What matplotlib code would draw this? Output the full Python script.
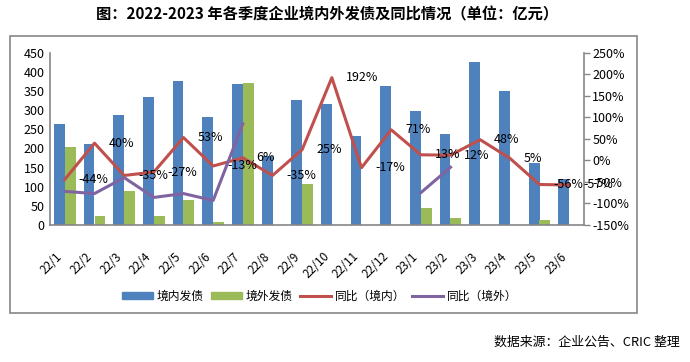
import numpy as np
import matplotlib
matplotlib.use("Agg")
import matplotlib.pyplot as plt
from matplotlib.patches import Rectangle, Patch
from matplotlib.lines import Line2D

plt.rcParams['font.family'] = ['Noto Sans CJK SC', 'DejaVu Sans']
plt.rcParams['axes.unicode_minus'] = False

# Data
quarters = ['22/1', '22/2', '22/3', '22/4', '22/5', '22/6', '22/7', '22/8', '22/9',
            '22/10', '22/11', '22/12', '23/1', '23/2', '23/3', '23/4', '23/5', '23/6']
domestic = [264, 212, 287, 334, 376, 282, 368, 180, 326,
            316, 232, 363, 298, 238, 425, 350, 162, 120]
overseas = [204, 24, 89, 24, 66, 8, 371, 0, 107,
            0, 0, 0, 45, 18, 0, 0, 13, 0]
yoy_domestic = [-44, 40, -35, -27, 53, -13, 6, -35, 25,
                192, -17, 71, 13, 12, 48, 5, -56, -57]
yoy_overseas = [-72, -77, -40, -86, -77, -93, 85, np.nan, np.nan,
                np.nan, np.nan, np.nan, -75, -16, np.nan, np.nan, np.nan, np.nan]

c_blue = '#4F81BD'
c_green = '#9BBB59'
c_red = '#C0504D'
c_purple = '#8064A2'
c_axis = '#868686'

fig = plt.figure(figsize=(6.9, 3.62), dpi=100)
ax = fig.add_axes([50 / 690, 1 - 225 / 362, 534 / 690, (225 - 52.7) / 362])
ax2 = ax.twinx()

x = np.arange(len(quarters))
w = 0.37
ax.bar(x - w / 2, domestic, w, color=c_blue, zorder=2)
ax.bar(x + w / 2, overseas, w, color=c_green, zorder=2)
ax.set_xlim(-0.5, len(quarters) - 0.5)
ax.set_ylim(0, 450)
ax.set_yticks(np.arange(0, 451, 50))
ax.set_xticks(x)
ax.set_xticklabels(quarters, rotation=45, ha='right', va='top', fontsize=8.5)
ax.tick_params(axis='x', length=0, pad=18)
ax.tick_params(axis='y', length=0, labelsize=9, pad=4)

ax2.plot(x, yoy_domestic, color=c_red, lw=2.2, zorder=3)
ax2.plot(x, yoy_overseas, color=c_purple, lw=2.2, zorder=3)
ax2.set_ylim(-150, 250)
ax2.set_yticks(np.arange(-150, 251, 50))
ax2.set_yticklabels([f'{v}%' for v in range(-150, 251, 50)])
ax2.tick_params(axis='y', length=4, width=1, color=c_axis, labelsize=9, pad=2)

for xi, v in zip(x, yoy_domestic):
    ax2.annotate(f'{v}%', (xi, v), xytext=(10, 0), textcoords='offset points',
                 ha='left', va='center', fontsize=9, zorder=4)

for a in (ax, ax2):
    a.spines['top'].set_visible(False)
    for s in ('left', 'right', 'bottom'):
        a.spines[s].set_color(c_axis)
        a.spines[s].set_linewidth(1.2)
ax.spines['right'].set_visible(False)
ax2.spines['left'].set_visible(False)
ax2.spines['bottom'].set_visible(False)

# Outer frame
fig.patches.append(Rectangle((10 / 690, 1 - 313 / 362), 627 / 690, 277 / 362,
                             transform=fig.transFigure, fill=False,
                             edgecolor=c_axis, lw=1.2))

fig.text(327 / 690, 1 - 14 / 362, '图：2022-2023 年各季度企业境内外发债及同比情况（单位：亿元）',
         ha='center', va='center', fontsize=11, fontweight='bold')

handles = [Patch(color=c_blue), Patch(color=c_green),
           Line2D([], [], color=c_red, lw=2.2), Line2D([], [], color=c_purple, lw=2.2)]
labels = ['境内发债', '境外发债', '同比（境内）', '同比（境外）']
fig.legend(handles, labels, loc='center', bbox_to_anchor=(320 / 690, 1 - 296 / 362),
           ncol=4, frameon=False, fontsize=8.5, handlelength=2.6, handleheight=0.6,
           handletextpad=0.35, columnspacing=0.6)

fig.text(680 / 690, 1 - 342 / 362, '数据来源：企业公告、CRIC 整理',
         ha='right', va='center', fontsize=9.3)

fig.savefig('out.png', dpi=100)
